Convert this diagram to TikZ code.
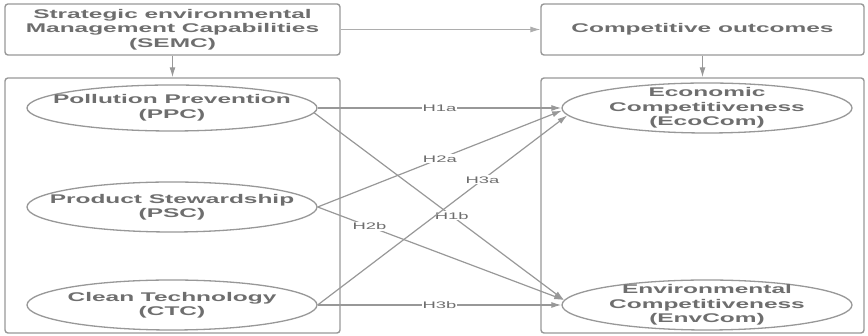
\documentclass[tikz,border=0pt]{standalone}
\usepackage{fontspec}
\setmainfont[FakeStretch=1.94]{Liberation Sans}
\usepackage{tikz}
\usetikzlibrary{arrows.meta,shapes.geometric}
\definecolor{smline}{RGB}{152,152,152}
\definecolor{smtext}{RGB}{110,110,110}
\tikzset{
  topbox/.style={rectangle,rounded corners=3pt,draw=smline,line width=1.4pt,inner sep=0pt,minimum height=51pt,align=center,text=smtext,font=\bfseries\fontsize{12.6}{14.5}\selectfont},
  group/.style={rectangle,rounded corners=3pt,draw=smline,line width=1.4pt,inner sep=0pt,minimum height=255pt},
  construct/.style={ellipse,draw=smline,line width=1.3pt,fill=white,inner sep=0pt,minimum width=290pt,minimum height=48pt},
  ctext/.style={inner sep=0pt,align=center,text=smtext,font=\bfseries\fontsize{12.6}{14.5}\selectfont},
  arr/.style={-{Latex[length=10pt,width=6pt]},line width=1.2pt,draw=smline},
  hyp/.style={-{Latex[length=10pt,width=6pt]},line width=1.2pt,draw=smline},
  hlabel/.style={fill=white,inner sep=1pt,text=smtext,font=\fontsize{9.5}{11}\selectfont},
}
\begin{document}
\begin{tikzpicture}[x=1pt,y=1pt]
  \useasboundingbox (0,0) rectangle (868,336);
  % top row
  \node[topbox,minimum width=335pt] (semc) at (172.5,306.5) {Strategic environmental\\Management Capabilities\\(SEMC)};
  \node[topbox,minimum width=323pt] (comp) at (702.5,306.5) {Competitive outcomes};
  \draw[arr,line width=0.9pt,draw=smline!80] (semc) -- (comp);

  % containers
  \node[group,minimum width=335pt] (capab) at (172.5,130.5) {};
  \node[group,minimum width=323pt] (outcm) at (702.5,130.5) {};
  \draw[arr] (semc) -- (capab);
  \draw[arr] (comp) -- (outcm);

  % constructs
  \node[construct,minimum height=46pt,label={[ctext]center:Pollution Prevention\\(PPC)}] (ppc) at (172,228) {};
  \node[construct,minimum height=50pt,label={[ctext]center:Product Stewardship\\(PSC)}] (psc) at (172,129) {};
  \node[construct,minimum height=50pt,label={[ctext]center:Clean Technology\\(CTC)}] (ctc) at (172,31) {};
  \node[construct,minimum height=50pt,label={[ctext]center:Economic\\Competitiveness\\(EcoCom)}] (eco) at (707,228) {};
  \node[construct,minimum height=50pt,label={[ctext]center:Environmental\\Competitiveness\\(EnvCom)}] (env) at (707,31) {};

  % hypotheses
  \draw[hyp] (ppc.east) -- node[hlabel,pos=0.5] {H1a} (eco.west);
  \draw[hyp] (ppc.-2) -- node[hlabel,pos=0.55] {H1b} (env.178.8);
  \draw[hyp] (psc.east) -- node[hlabel,pos=0.5] {H2a} (eco.181.6);
  \draw[hyp] (psc.east) -- node[hlabel,pos=0.21] {H2b} (env.178);
  \draw[hyp] (ctc.east) -- node[hlabel,pos=0.66] {H3a} (eco.183.8);
  \draw[hyp] (ctc.east) -- node[hlabel,pos=0.5] {H3b} (env.west);
\end{tikzpicture}
\end{document}
